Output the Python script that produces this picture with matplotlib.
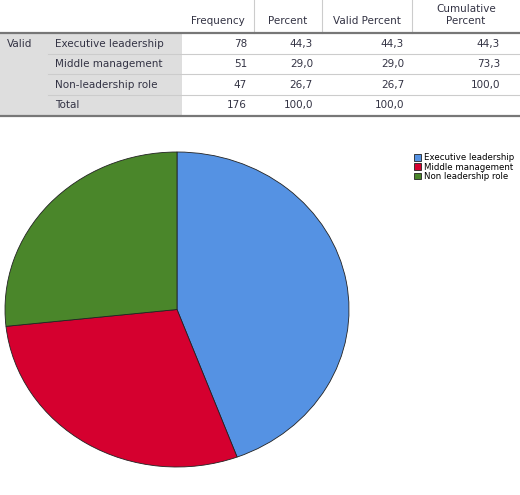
import matplotlib.pyplot as plt
from matplotlib.patches import Rectangle
from matplotlib.lines import Line2D

categories = ["Executive leadership", "Middle management", "Non leadership role"]
table_labels = ["Executive leadership", "Middle management", "Non-leadership role", "Total"]
frequency = [78, 51, 47, 176]
percent = ["44,3", "29,0", "26,7", "100,0"]
valid_percent = ["44,3", "29,0", "26,7", "100,0"]
cumulative = ["44,3", "73,3", "100,0", ""]
colors = ["#5592E3", "#D5002F", "#4A862A"]

W, H = 520, 495
fig = plt.figure(figsize=(W / 100, H / 100), dpi=100)
plt.rcParams['font.family'] = ['DejaVu Sans']

def fx(x):
    return x / W

def fy(y):
    return 1 - y / H

txt = dict(fontsize=7.5, color="#333344")

# ====== table ======
fig.add_artist(Rectangle((0, fy(116)), fx(182), (116 - 33) / H, transform=fig.transFigure,
                         facecolor="#DEDEDE", edgecolor="none"))
for x in [254, 322, 412]:
    fig.add_artist(Line2D([fx(x), fx(x)], [fy(0), fy(33)], color="#cccccc", lw=0.8))
fig.add_artist(Line2D([0, 1], [fy(33), fy(33)], color="#777777", lw=1.6))
fig.add_artist(Line2D([0, 1], [fy(116), fy(116)], color="#777777", lw=1.6))
for y in [54, 74, 95]:
    fig.add_artist(Line2D([fx(48), 1], [fy(y), fy(y)], color="#cccccc", lw=0.8))

fig.text(fx(218), fy(24), "Frequency", ha="center", va="baseline", **txt)
fig.text(fx(288), fy(24), "Percent", ha="center", va="baseline", **txt)
fig.text(fx(367), fy(24), "Valid Percent", ha="center", va="baseline", **txt)
fig.text(fx(466), fy(12), "Cumulative", ha="center", va="baseline", **txt)
fig.text(fx(466), fy(24), "Percent", ha="center", va="baseline", **txt)
fig.text(fx(7), fy(44), "Valid", ha="left", va="center", **txt)

row_y = [44, 64, 85, 105]
for i, y in enumerate(row_y):
    fig.text(fx(55), fy(y), table_labels[i], ha="left", va="center", **txt)
    fig.text(fx(247), fy(y), str(frequency[i]), ha="right", va="center", **txt)
    fig.text(fx(313), fy(y), percent[i], ha="right", va="center", **txt)
    fig.text(fx(404), fy(y), valid_percent[i], ha="right", va="center", **txt)
    fig.text(fx(500), fy(y), cumulative[i], ha="right", va="center", **txt)

# ====== pie ======
ax = fig.add_axes([fx(5), fy(467), fx(344), (467 - 152) / H])
wedges, _ = ax.pie(frequency[:3], colors=colors, startangle=90, counterclock=False,
                   wedgeprops=dict(edgecolor="#222222", linewidth=0.6))
ax.set_aspect("auto")
ax.set_xlim(-1, 1)
ax.set_ylim(-1, 1)
ax.axis("off")

fig.legend(wedges, categories, loc="upper left", bbox_to_anchor=(fx(410), fy(149)),
           frameon=False, fontsize=6.2, handlelength=0.8, handleheight=0.8,
           handletextpad=0.3, labelspacing=0.05, borderpad=0)

fig.savefig("out.png", dpi=100)
